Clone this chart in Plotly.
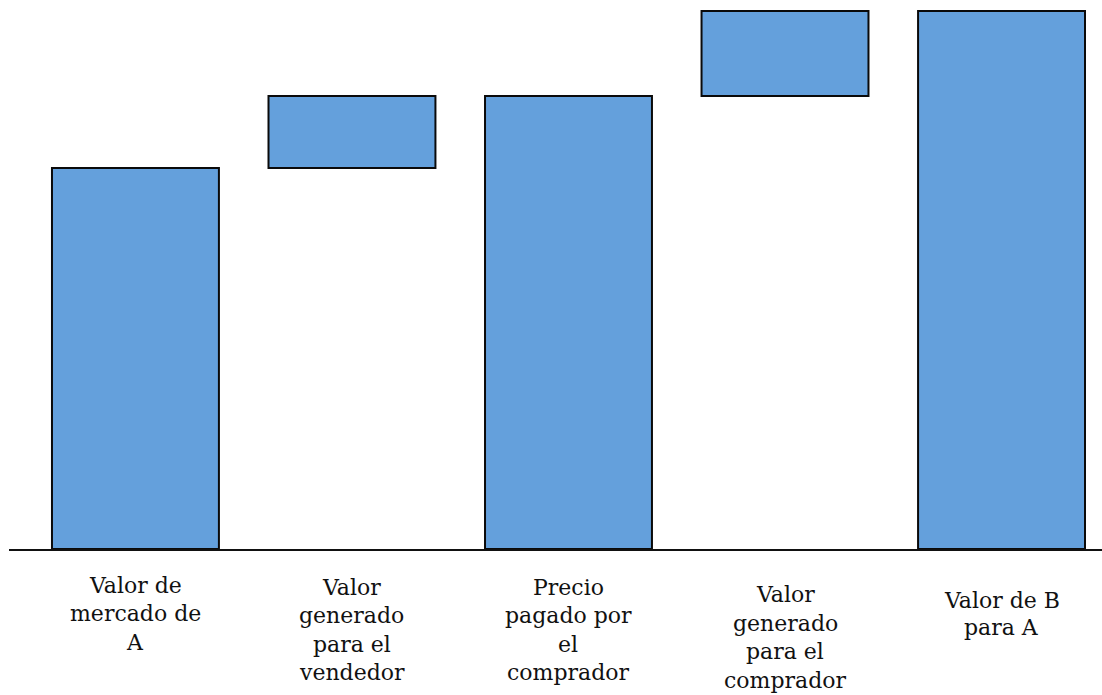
import plotly.graph_objects as go

# Data
categories = [
    "Valor de<br>mercado de<br>A",
    "Valor<br>generado<br>para el<br>vendedor",
    "Precio<br>pagado por<br>el<br>comprador",
    "Valor<br>generado<br>para el<br>comprador",
    "Valor de B<br>para A",
]
values = [381, 72, 0, 85, 0]
measures = ["absolute", "relative", "total", "relative", "total"]

BAR_COLOR = "#64A0DC"
EDGE = "#0a0a0a"

fig = go.Figure()
fig.add_trace(go.Waterfall(
    x=list(range(len(categories))),
    y=values,
    measure=measures,
    width=0.771,
    connector=dict(visible=False),
    increasing=dict(marker=dict(color=BAR_COLOR, line=dict(color=EDGE, width=2))),
    decreasing=dict(marker=dict(color=BAR_COLOR, line=dict(color=EDGE, width=2))),
    totals=dict(marker=dict(color=BAR_COLOR, line=dict(color=EDGE, width=2))),
    textposition="none",
    showlegend=False,
    hoverinfo="skip",
))

# Category labels as per-line annotations
H = 695
T, B = 9, 146
plot_h = H - T - B
bottom_px = H - B
first_line_center = [585, 587, 587, 594.5, 600]
line_step = [28.6, 28.6, 28.6, 28.6, 27]
annotations = []
for i, lab in enumerate(categories):
    for j, line in enumerate(lab.split("<br>")):
        pix = first_line_center[i] + j * line_step[i]
        annotations.append(dict(
            x=i, xref="x",
            y=(bottom_px - pix) / plot_h, yref="paper",
            text=line, showarrow=False,
            xanchor="center", yanchor="middle",
            font=dict(family="DejaVu Serif", size=22, color="#111111"),
        ))

fig.update_layout(
    width=1102, height=695,
    margin=dict(l=9, r=0, t=T, b=B),
    paper_bgcolor="white", plot_bgcolor="white",
    annotations=annotations,
    xaxis=dict(
        range=[-0.584, 4.464], showticklabels=False, showgrid=False,
        zeroline=False, showline=True, linecolor="#111111", linewidth=2,
        ticks="", fixedrange=True,
    ),
    yaxis=dict(
        range=[0, plot_h], visible=False, showgrid=False, zeroline=False,
        fixedrange=True,
    ),
)

fig.write_html("out.html")
